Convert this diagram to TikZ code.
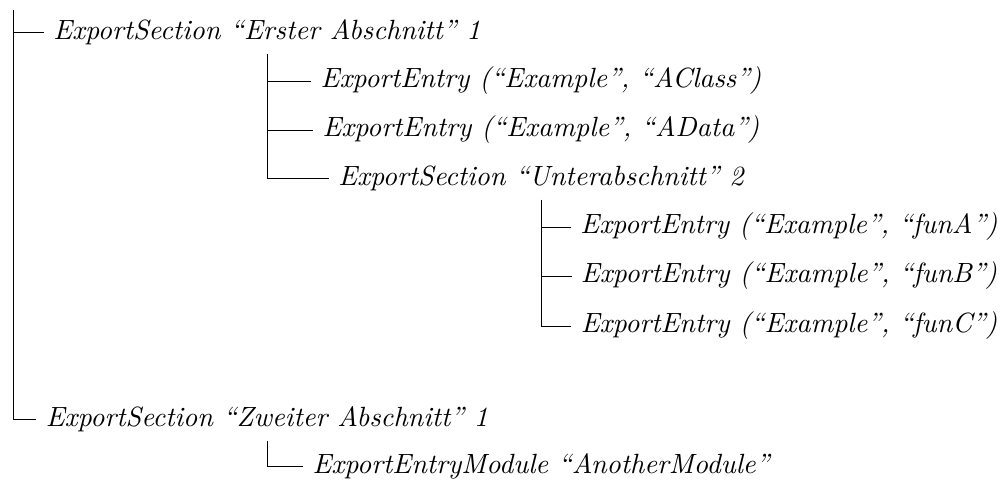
\documentclass[tikz,border=0pt]{standalone}
\usepackage{fontspec}
\setmainfont{Latin Modern Roman}
\usetikzlibrary{positioning}

\begin{document}
\begin{tikzpicture}[x=0.3774pt, y=0.3774pt]
  \tikzstyle{item}=[font=\fontsize{10.5}{12}\selectfont\itshape, anchor=center]
  \tikzstyle{branch}=[draw, line width=0.35pt]

  \useasboundingbox (0,0) rectangle (1002,-485);

  % Tree, top level
  \coordinate (root) at (13,-10);
  \node[item] (erster) at (267,-32) {ExportSection ``Erster Abschnitt'' 1};
  \node[item] (zweiter) at (267,-419) {ExportSection ``Zweiter Abschnitt'' 1};

  % Entries of the first section
  \node[item] (aclass) at (541,-81) {ExportEntry (``Example'', ``AClass'')};
  \node[item] (adata) at (541,-130) {ExportEntry (``Example'', ``AData'')};
  \node[item] (unter) at (541,-178) {ExportSection ``Unterabschnitt'' 2};

  % Entries of the sub section
  \node[item] (funa) at (789,-227) {ExportEntry (``Example'', ``funA'')};
  \node[item] (funb) at (789,-276) {ExportEntry (``Example'', ``funB'')};
  \node[item] (func) at (789,-326) {ExportEntry (``Example'', ``funC'')};

  % Entry of the second section
  \node[item] (module) at (541,-466) {ExportEntryModule ``AnotherModule''};

  \draw[branch] (root) |- (erster.west);
  \draw[branch] (root) |- (zweiter.west);
  \draw[branch] (erster.south) |- (aclass.west);
  \draw[branch] (erster.south) |- (adata.west);
  \draw[branch] (erster.south) |- (unter.west);
  \draw[branch] (unter.south) |- (funa.west);
  \draw[branch] (unter.south) |- (funb.west);
  \draw[branch] (unter.south) |- (func.west);
  \draw[branch] (zweiter.south) |- (module.west);
\end{tikzpicture}
\end{document}
